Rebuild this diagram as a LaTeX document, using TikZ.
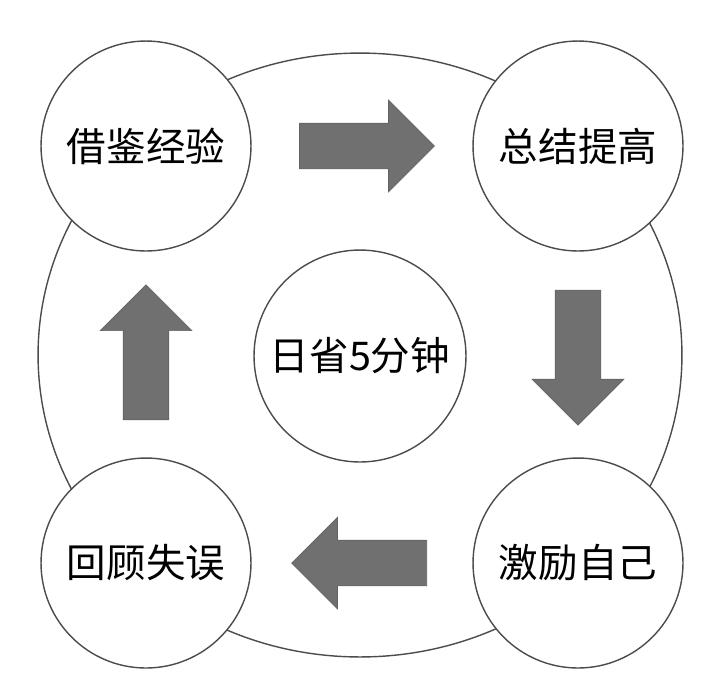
\documentclass[tikz,border=0pt]{standalone}
\usepackage{fontspec}
\setmainfont{Noto Sans CJK SC}
\usetikzlibrary{shapes,arrows,positioning,calc}

\begin{document}
\begin{tikzpicture}[x=0.02cm, y=-0.02cm,
    stepcircle/.style={circle, draw=black!70, line width=0.8pt, fill=white, minimum size=4.2cm, inner sep=0pt, font=\fontsize{22.5}{27}\selectfont},
    blockarrow/.style={single arrow, draw=black!62, fill=black!56, line width=0.4pt, minimum height=2.7cm, minimum width=0pt, inner xsep=0pt, inner ysep=0.45cm, single arrow head extend=0.46cm}]
    \useasboundingbox (0,0) rectangle (705,681);

    % Ring
    \coordinate (mid) at (360,355);
    \draw [draw=black!70, line width=0.8pt] (mid) ellipse [x radius=6.44cm, y radius=6.04cm];

    % Steps
    \node (jj) [stepcircle] at (146,146) {借鉴经验};
    \node (zj) [stepcircle] at (578,146) {总结提高};
    \node (jl) [stepcircle] at (578,563) {激励自己};
    \node (hg) [stepcircle] at (146,563) {回顾失误};
    \node (rs) [stepcircle, minimum size=4.24cm] at (360,356) {日省5分钟};

    % Arrows
    \node (a1) [blockarrow] at ($(jj)!0.485!(zj)$) {};
    \node (a2) [blockarrow, rotate=-90] at ($(zj)!0.48!(jl)$) {};
    \node (a3) [blockarrow, rotate=180] at ($(jl)!0.48!(hg)$) {};
    \node (a4) [blockarrow, rotate=90] at ($(hg)!0.478!(jj)$) {};
\end{tikzpicture}
\end{document}
